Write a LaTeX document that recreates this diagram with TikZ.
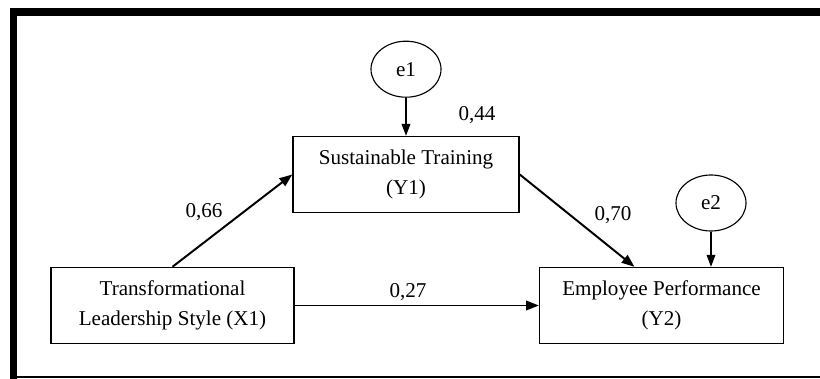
\documentclass[tikz,border=0pt]{standalone}
\usepackage{fontspec}
\setmainfont{Liberation Serif}
\usetikzlibrary{positioning,arrows.meta,shapes.geometric}
\tikzset{
  construct/.style={rectangle, draw=black, line width=1pt, minimum height=1.9cm,
                    align=center, inner sep=0pt, font=\fontsize{15}{21}\selectfont},
  errterm/.style={ellipse, draw=black, line width=0.8pt, minimum width=1.75cm,
                  minimum height=1.4cm, inner sep=0pt, font=\fontsize{15}{18}\selectfont},
  coef/.style={inner sep=0pt, font=\fontsize{15}{18}\selectfont},
  effect/.style={-{Triangle[length=3.2mm, width=2.4mm]}, line width=1.4pt},
  resid/.style={-{Triangle[length=3mm, width=2.2mm]}, line width=0.8pt}
}
\begin{document}
\begin{tikzpicture}[x=0.025cm, y=-0.025cm, node distance=9.5mm and 6.1cm]
\useasboundingbox (0,0) rectangle (820,379);
% frame
\fill (10,8) rectangle (820,16);
\fill (10,8) rectangle (17,379);
\draw[line width=1.2pt] (17,377) -- (820,377);

\node[construct, minimum width=6.075cm] (X1) at (172.5,305.5) {Transformational\\Leadership Style (X1)};
\node[construct, minimum width=6.1cm, right=of X1] (Y2) {Employee Performance\\(Y2)};
\node[construct, minimum width=5.65cm] (Y1) at (406,174.5) {Sustainable Training\\(Y1)};
\node[errterm, above=of Y1] (e1) {e1};
\node[errterm] (e2) at (711,203) {e2};

\node[coef] (c66) at (204,212) {0,66};
\node[coef] (c27) at (408,292) {0,27};
\node[coef] (c44) at (477,115) {0,44};
\node[coef] (c70) at (613,215) {0,70};

\draw[effect] (X1.north) -- (Y1.west);
\draw[effect] (X1.east) -- (Y2.west);
\draw[effect] (Y1.east) -- (Y2.125);
\draw[resid] (e1) -- (Y1);
\draw[resid] (e2) -- (e2 |- Y2.north);
\end{tikzpicture}
\end{document}
